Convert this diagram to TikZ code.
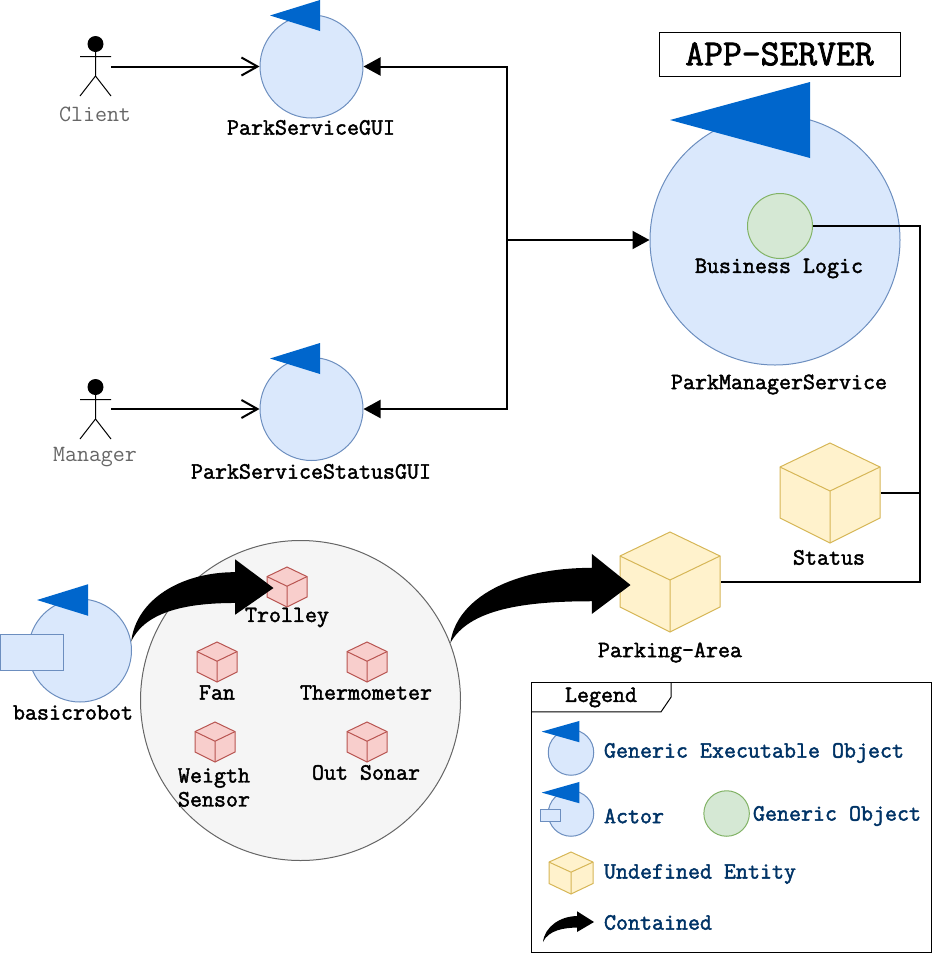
\documentclass[tikz,border=0pt]{standalone}
\usepackage{fontspec}
\newfontfamily\boldmono{Latin Modern Mono}[FakeBold=2]
\newfontfamily\plainmono{Latin Modern Mono}
\usetikzlibrary{arrows.meta,calc}
\definecolor{execfill}{HTML}{DAE8FC}
\definecolor{execline}{HTML}{6C8EBF}
\definecolor{flagblue}{HTML}{0066CC}
\definecolor{objfill}{HTML}{D5E8D4}
\definecolor{objline}{HTML}{82B366}
\definecolor{undeffill}{HTML}{FFF2CC}
\definecolor{undefline}{HTML}{D6B656}
\definecolor{partfill}{HTML}{F8CECC}
\definecolor{partline}{HTML}{B85450}
\definecolor{legendtext}{HTML}{003366}
\tikzset{
  execobj/.style={circle,draw=execline,fill=execfill,inner sep=0,minimum size=#1},
  plainobj/.style={circle,draw=objline,fill=objfill,inner sep=0,minimum size=#1},
  cubebox/.style={inner sep=0,minimum size=#1},
  actorbox/.style={inner sep=0,minimum width=30,minimum height=60},
  caption/.style={inner sep=0,yshift=-.5pt,font=\fontsize{23.3}{24}\selectfont\boldmono},
  actorname/.style={inner sep=0,yshift=-.5pt,text=black!60,font=\fontsize{23.3}{24}\selectfont\plainmono},
  legendname/.style={inner sep=0,anchor=west,yshift=-1pt,xshift=-.5pt,text=legendtext,font=\fontsize{23.3}{24}\selectfont\boldmono},
  flowline/.style={line width=2},
  openflow/.style={flowline,-{Straight Barb[length=16,width=18,line width=2]}},
  solidflow/.style={flowline,-{Triangle[length=17,width=18]}},
  cubeundef/.style={draw=undefline,fill=undeffill},
  cubepart/.style={draw=partline,fill=partfill},
  flag/.pic={\fill[flagblue] (0,0) -- (1,-.5) -- (1,.5) -- cycle;},
  cube/.pic={
    \filldraw[pic actions] (0,-.5) -- (.5,-.26) -- (.5,.25) -- (0,.5) -- (-.5,.25) -- (-.5,-.26) -- cycle;
    \draw[pic actions,fill=none] (-.5,-.26) -- (0,-.02) -- (.5,-.26) (0,-.02) -- (0,.5);
  },
  stickman/.pic={
    \fill (0,-22) circle (8);
    \draw (0,-14) -- (0,10) (-15.5,-9.5) -- (15.5,-9.5) (-15.5,30) -- (0,10) -- (15.5,30);
  }
}
% bent block arrow from #1 to the tip #2, head base at fraction #3
\newcommand{\bentarrow}[3]{
  \fill let \p1=(#1), \p2=(#2), \n1={\x2-\x1}, \n2={\y2-\y1} in
    (\p1) .. controls (\x1+.035*\n1,\y1+.78*\n2) and (\x1+.347*\n1,\y1+1.296*\n2)
    .. (\x1+#3*\n1,\y1+1.296*\n2) -- (\x1+#3*\n1,\y1+1.537*\n2) -- (\p2)
    -- (\x1+#3*\n1,\y1+.5*\n2) -- (\x1+#3*\n1,\y1+.72*\n2)
    .. controls (\x1+.417*\n1,\y1+.72*\n2) and (\x1+.104*\n1,\y1+.59*\n2) .. (\p1) -- cycle;
}
\begin{document}
\begin{tikzpicture}[x=1pt,y=-1pt,line width=1]
  \useasboundingbox (0,0) rectangle (933,954);
  % top left
  \node[execobj=103] (gui) at (311.5,66.5) {};
  \pic[xscale=50,yscale=31] at (270,15.5) {flag};
  \node[caption] (guiname) at (311,127) {ParkServiceGUI};
  \node[execobj=103] (statusgui) at (311.5,409) {};
  \pic[xscale=50,yscale=31] at (270,358.5) {flag};
  \node[caption] (statusguiname) at (311,471) {ParkServiceStatusGUI};
  \node[actorbox] (client) at (95.5,66) {};
  \pic at (client) {stickman};
  \node[actorname] (clientname) at (95,113.5) {Client};
  \node[actorbox] (manager) at (95.5,409) {};
  \pic at (manager) {stickman};
  \node[actorname] (managername) at (95,457) {Manager};
  \draw[openflow] (client.east |- gui) -- (gui);
  \draw[openflow] (manager.east |- statusgui) -- (statusgui);
  % server
  \node[draw,inner sep=0,minimum width=241,minimum height=44,font=\fontsize{36.6}{36}\selectfont\boldmono] (appserver) at (779.5,54) {APP-SERVER};
  \node[execobj=250] (service) at (775,240) {};
  \pic[xscale=140,yscale=76] at (670,120) {flag};
  \node[plainobj=65] (logic) at (780,226) {};
  \node[caption] (logicname) at (779,268) {Business Logic};
  \node[caption] (servicename) at (779,384) {ParkManagerService};
  \coordinate (hub) at (507,240);
  \draw[solidflow] (hub) |- (gui.east);
  \draw[solidflow] (hub) |- (statusgui.east);
  \draw[solidflow] (hub) -- (service);
  % entities
  \node[cubebox=100] (status) at (830,493) {};
  \pic[cubeundef,scale=100] at (status) {cube};
  \node[caption] (statusname) at (829,557) {Status};
  \node[cubebox=100] (parking) at (670,582) {};
  \pic[cubeundef,scale=100] at (parking) {cube};
  \node[caption] (parkingname) at (670,652) {Parking-Area};
  \coordinate (buscorner) at (920,582);
  \draw[flowline] (logic.east) -| (buscorner) -- (parking.east);
  \draw[flowline] (status.east) -- (status.east -| buscorner);
  % robot
  \node[circle,draw=black!60,fill=black!4,inner sep=0,minimum size=320] (robotparts) at (300.5,700.5) {};
  \node[execobj=103] (robot) at (80,650.5) {};
  \pic[xscale=51,yscale=31.5] at (37,600) {flag};
  \node[draw=execline,fill=execfill,inner sep=0,minimum width=63,minimum height=35.5] (robotport) at (32.2,652.3) {};
  \node[caption] (robotname) at (73,712) {basicrobot};
  \node[cubebox=40] (trolley) at (287,587) {};
  \pic[cubepart,scale=40] at (trolley) {cube};
  \node[caption] (trolleyname) at (287,617) {Trolley};
  \node[cubebox=40] (fan) at (217,662) {};
  \pic[cubepart,scale=40] at (fan) {cube};
  \node[caption] (fanname) at (217,692) {Fan};
  \node[cubebox=40] (thermo) at (367,662) {};
  \pic[cubepart,scale=40] at (thermo) {cube};
  \node[caption] (thermoname) at (366,692) {Thermometer};
  \node[cubebox=40] (weight) at (215,742) {};
  \pic[cubepart,scale=40] at (weight) {cube};
  \node[caption,align=center] (weightname) at (214,787) {Weigth\\Sensor};
  \node[cubebox=40] (sonar) at (367,742) {};
  \pic[cubepart,scale=40] at (sonar) {cube};
  \node[caption] (sonarname) at (366,772) {Out Sonar};
  \bentarrow{robot.10}{$(trolley.west)+(7pt,-1pt)$}{.73}
  \bentarrow{robotparts.21}{$(parking.west)+(11pt,-3pt)$}{.785}
  % legend
  \node[draw,inner sep=0,minimum width=400,minimum height=270] (legendbox) at (731.5,817.7) {};
  \coordinate (tabcorner) at (legendbox.north west);
  \draw (tabcorner) ++(140,0) -- ++(0,15) -- ++(-10,14.7) -- ++(-130,0);
  \node[caption] (legendtitle) at (601,697) {Legend};
  \node[execobj=45.5] (legexec) at (571,752.5) {};
  \pic[xscale=37.6,yscale=21.3] at (541.7,731.6) {flag};
  \node[legendname] (legexecname) at (604,752) {Generic Executable Object};
  \node[execobj=45.5] (legactor) at (571,813.5) {};
  \pic[xscale=37.6,yscale=21.3] at (541.7,792.6) {flag};
  \node[draw=execline,fill=execfill,inner sep=0,minimum width=20.5,minimum height=11.7] (legport) at (550.3,815.2) {};
  \node[legendname] (legactorname) at (604,815) {Actor};
  \node[plainobj=45.5] (legobj) at (726.6,813.5) {};
  \node[legendname] (legobjname) at (753,815) {Generic Object};
  \node[cubebox=42] (legcube) at (571,873) {};
  \pic[cubeundef,xscale=44,yscale=42] at (legcube) {cube};
  \node[legendname] (legcubename) at (604,873) {Undefined Entity};
  \coordinate (legfrom) at (543,942);
  \coordinate (legto) at (594,922);
  \bentarrow{legfrom}{legto}{.667}
  \node[legendname] (legarrowname) at (604,921.5) {Contained};
\end{tikzpicture}
\end{document}
